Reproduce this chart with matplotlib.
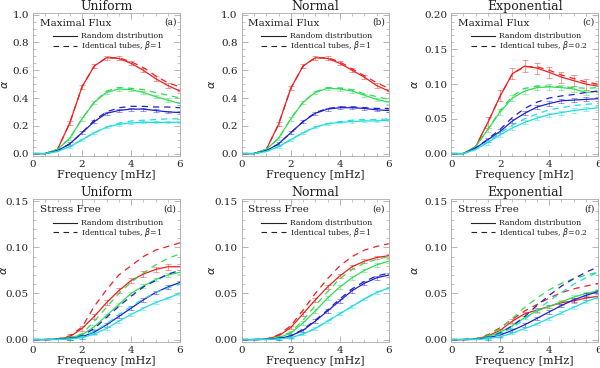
import numpy as np
import matplotlib
matplotlib.use("Agg")
import matplotlib.pyplot as plt
from matplotlib.ticker import MultipleLocator

plt.rcParams["font.family"] = "DejaVu Serif"

# frequency grid [mHz]
freq = [0, 0.5, 1.0, 1.5, 2.0, 2.5, 3.0, 3.5, 4.0, 4.5, 5.0, 5.5, 6.0]

# rows: red, green, blue, cyan  (solid = random distribution, dashed = identical tubes)
# (a) Uniform, maximal flux
uni_mf_solid = [
    [0, 0.0, 0.03, 0.22, 0.48, 0.63, 0.69, 0.685, 0.65, 0.60, 0.54, 0.49, 0.45],
    [0, 0.0, 0.03, 0.11, 0.25, 0.37, 0.44, 0.465, 0.46, 0.44, 0.41, 0.385, 0.36],
    [0, 0.0, 0.02, 0.07, 0.15, 0.23, 0.29, 0.31, 0.32, 0.32, 0.31, 0.30, 0.295],
    [0, 0.0, 0.015, 0.05, 0.10, 0.15, 0.19, 0.21, 0.22, 0.225, 0.225, 0.225, 0.225]]
uni_mf_dash = [
    [0, 0.0, 0.03, 0.22, 0.48, 0.63, 0.69, 0.69, 0.66, 0.62, 0.56, 0.51, 0.48],
    [0, 0.0, 0.03, 0.11, 0.25, 0.37, 0.45, 0.475, 0.47, 0.46, 0.44, 0.42, 0.40],
    [0, 0.0, 0.02, 0.07, 0.15, 0.24, 0.30, 0.33, 0.34, 0.34, 0.335, 0.335, 0.33],
    [0, 0.0, 0.015, 0.05, 0.10, 0.15, 0.19, 0.22, 0.235, 0.24, 0.245, 0.25, 0.25]]
# (b) Normal, maximal flux
nor_mf_solid = [
    [0, 0.0, 0.03, 0.21, 0.47, 0.63, 0.69, 0.685, 0.65, 0.60, 0.55, 0.49, 0.45],
    [0, 0.0, 0.03, 0.11, 0.25, 0.37, 0.44, 0.47, 0.465, 0.45, 0.42, 0.39, 0.37],
    [0, 0.0, 0.02, 0.07, 0.15, 0.23, 0.29, 0.32, 0.33, 0.33, 0.325, 0.315, 0.31],
    [0, 0.0, 0.015, 0.05, 0.10, 0.15, 0.19, 0.215, 0.225, 0.23, 0.235, 0.235, 0.24]]
nor_mf_dash = [
    [0, 0.0, 0.03, 0.21, 0.47, 0.63, 0.69, 0.69, 0.66, 0.61, 0.56, 0.51, 0.47],
    [0, 0.0, 0.03, 0.11, 0.25, 0.37, 0.445, 0.475, 0.47, 0.46, 0.43, 0.41, 0.39],
    [0, 0.0, 0.02, 0.07, 0.15, 0.23, 0.295, 0.325, 0.335, 0.335, 0.33, 0.325, 0.325],
    [0, 0.0, 0.015, 0.05, 0.10, 0.15, 0.19, 0.215, 0.23, 0.24, 0.245, 0.245, 0.25]]
# (c) Exponential, maximal flux
exp_mf_solid = [
    [0, 0.0, 0.01, 0.045, 0.083, 0.115, 0.126, 0.123, 0.117, 0.11, 0.105, 0.10, 0.097],
    [0, 0.0, 0.01, 0.035, 0.06, 0.08, 0.09, 0.095, 0.096, 0.095, 0.093, 0.088, 0.09],
    [0, 0.0, 0.008, 0.02, 0.032, 0.047, 0.058, 0.067, 0.072, 0.076, 0.077, 0.078, 0.079],
    [0, 0.0, 0.006, 0.016, 0.027, 0.037, 0.045, 0.051, 0.056, 0.059, 0.062, 0.064, 0.066]]
exp_mf_dash = [
    [0, 0.0, 0.01, 0.045, 0.083, 0.115, 0.125, 0.125, 0.12, 0.113, 0.108, 0.103, 0.10],
    [0, 0.0, 0.01, 0.035, 0.062, 0.083, 0.094, 0.097, 0.097, 0.096, 0.095, 0.094, 0.095],
    [0, 0.0, 0.008, 0.021, 0.035, 0.052, 0.065, 0.074, 0.08, 0.083, 0.085, 0.088, 0.09],
    [0, 0.0, 0.006, 0.017, 0.030, 0.041, 0.05, 0.057, 0.063, 0.066, 0.069, 0.071, 0.072]]
# (d) Uniform, stress free
uni_sf_solid = [
    [0, 0, 0.0005, 0.003, 0.012, 0.025, 0.04, 0.053, 0.064, 0.071, 0.076, 0.079, 0.079],
    [0, 0, 0.0003, 0.002, 0.005, 0.014, 0.026, 0.038, 0.05, 0.058, 0.065, 0.07, 0.073],
    [0, 0, 0.0002, 0.001, 0.003, 0.008, 0.016, 0.025, 0.034, 0.043, 0.051, 0.057, 0.062],
    [0, 0, 0.0001, 0.0007, 0.002, 0.006, 0.012, 0.02, 0.027, 0.034, 0.04, 0.045, 0.05]]
uni_sf_dash = [
    [0, 0, 0.0008, 0.004, 0.0135, 0.036, 0.054, 0.07, 0.08, 0.09, 0.097, 0.101, 0.105],
    [0, 0, 0.0004, 0.002, 0.006, 0.02, 0.035, 0.05, 0.062, 0.072, 0.081, 0.088, 0.093],
    [0, 0, 0.0002, 0.001, 0.004, 0.012, 0.024, 0.036, 0.047, 0.057, 0.064, 0.071, 0.075],
    [0, 0, 0.0001, 0.0008, 0.003, 0.009, 0.017, 0.027, 0.036, 0.044, 0.051, 0.056, 0.06]]
# (e) Normal, stress free
nor_sf_solid = [
    [0, 0, 0.0005, 0.004, 0.013, 0.028, 0.043, 0.057, 0.069, 0.079, 0.085, 0.089, 0.091],
    [0, 0, 0.0003, 0.002, 0.007, 0.018, 0.031, 0.045, 0.057, 0.067, 0.075, 0.081, 0.085],
    [0, 0, 0.0002, 0.001, 0.004, 0.01, 0.02, 0.031, 0.042, 0.053, 0.061, 0.067, 0.07],
    [0, 0, 0.0001, 0.0006, 0.002, 0.006, 0.012, 0.02, 0.028, 0.036, 0.044, 0.051, 0.056]]
nor_sf_dash = [
    [0, 0, 0.0006, 0.005, 0.015, 0.032, 0.05, 0.066, 0.08, 0.09, 0.097, 0.101, 0.104],
    [0, 0, 0.0004, 0.003, 0.008, 0.021, 0.037, 0.052, 0.066, 0.076, 0.083, 0.087, 0.09],
    [0, 0, 0.0002, 0.001, 0.004, 0.011, 0.021, 0.032, 0.044, 0.055, 0.063, 0.069, 0.072],
    [0, 0, 0.0001, 0.0006, 0.002, 0.006, 0.012, 0.02, 0.028, 0.036, 0.044, 0.051, 0.056]]
# (f) Exponential, stress free
exp_sf_solid = [
    [0, 0, 0.0005, 0.004, 0.010, 0.020, 0.028, 0.032, 0.036, 0.040, 0.042, 0.045, 0.047],
    [0, 0, 0.0003, 0.003, 0.008, 0.015, 0.024, 0.031, 0.036, 0.041, 0.046, 0.050, 0.053],
    [0, 0, 0.0002, 0.002, 0.005, 0.010, 0.016, 0.023, 0.030, 0.037, 0.043, 0.048, 0.052],
    [0, 0, 0.0001, 0.001, 0.003, 0.007, 0.012, 0.017, 0.023, 0.029, 0.035, 0.041, 0.046]]
exp_sf_dash = [
    [0, 0, 0.001, 0.005, 0.013, 0.022, 0.031, 0.038, 0.045, 0.051, 0.055, 0.058, 0.061],
    [0, 0, 0.0008, 0.004, 0.012, 0.023, 0.035, 0.045, 0.054, 0.061, 0.066, 0.070, 0.073],
    [0, 0, 0.0004, 0.002, 0.007, 0.015, 0.025, 0.037, 0.048, 0.058, 0.066, 0.073, 0.079],
    [0, 0, 0.0003, 0.002, 0.006, 0.013, 0.022, 0.032, 0.042, 0.051, 0.060, 0.067, 0.073]]

# typical error bar half-size per colour (red, green, blue, cyan)
err_a = [0.015, 0.012, 0.01, 0.008]
err_b = [0.015, 0.012, 0.01, 0.008]
err_c = [0.008, 0.004, 0.003, 0.003]
err_d = [0.003, 0.002, 0.002, 0.0015]
err_e = [0.002, 0.002, 0.002, 0.0015]
err_f = [0.002, 0.002, 0.002, 0.0015]

cols = ['#ee2020', '#30dd55', '#2020cc', '#20dddd']
titles = ['Uniform', 'Normal', 'Exponential']
letters = ['(a)', '(b)', '(c)', '(d)', '(e)', '(f)']
betas = ['1', '1', '0.2']

panels = [
    (uni_mf_solid, uni_mf_dash, err_a), (nor_mf_solid, nor_mf_dash, err_b),
    (exp_mf_solid, exp_mf_dash, err_c), (uni_sf_solid, uni_sf_dash, err_d),
    (nor_sf_solid, nor_sf_dash, err_e), (exp_sf_solid, exp_sf_dash, err_f)]

fig = plt.figure(figsize=(6, 3.68), dpi=100)
lefts = [0.055, 0.403, 0.752]
bottoms = [0.577, 0.071]
w, h = 0.245, 0.387
fg = '#222222'
frame = '#aaaaaa'
alpha_x = [[-0.156, -0.171, -0.214], [-0.165, -0.171, -0.214]]

for k, (sol, das, err) in enumerate(panels):
    row, col = divmod(k, 3)
    ax = fig.add_axes([lefts[col], bottoms[row], w, h])
    for i in range(4):
        ax.plot(freq, das[i], color=cols[i], lw=0.9, ls=(0, (5, 4)))
        ax.plot(freq, sol[i], color=cols[i], lw=0.9)
        ef = [f for f in freq if f >= 1.5]
        ev = [v for f, v in zip(freq, sol[i]) if f >= 1.5]
        ax.errorbar(ef, ev, yerr=err[i], fmt='none', ecolor=cols[i],
                    alpha=0.45, elinewidth=0.7, capsize=2.5, capthick=0.7)
    ax.set_xlim(0, 6)
    if row == 0 and col < 2:
        ax.set_ylim(-0.015, 1.01)
        ax.yaxis.set_major_locator(MultipleLocator(0.2))
        ax.yaxis.set_minor_locator(MultipleLocator(0.05))
        ax.yaxis.set_major_formatter(plt.FormatStrFormatter('%.1f'))
        ytop = 1.0
    elif row == 0:
        ax.set_ylim(-0.003, 0.202)
        ax.yaxis.set_major_locator(MultipleLocator(0.05))
        ax.yaxis.set_minor_locator(MultipleLocator(0.01))
        ax.yaxis.set_major_formatter(plt.FormatStrFormatter('%.2f'))
        ytop = 0.2
    else:
        ax.set_ylim(-0.0025, 0.152)
        ax.yaxis.set_major_locator(MultipleLocator(0.05))
        ax.yaxis.set_minor_locator(MultipleLocator(0.01))
        ax.yaxis.set_major_formatter(plt.FormatStrFormatter('%.2f'))
        ytop = 0.15
    ax.xaxis.set_major_locator(MultipleLocator(2))
    ax.xaxis.set_minor_locator(MultipleLocator(0.5))
    ax.tick_params(which='both', direction='in', top=True, right=True,
                   color=frame, labelsize=7.5, labelcolor=fg, pad=3)
    ax.tick_params(which='major', length=4, width=0.6)
    ax.tick_params(which='minor', length=2, width=0.5)
    for s in ax.spines.values():
        s.set_color(frame)
        s.set_linewidth(0.6)
    ax.set_xlabel('Frequency [mHz]', fontsize=8, color=fg, labelpad=1)
    ax.set_ylabel(r'$\alpha$', fontsize=8, color=fg)
    ax.yaxis.set_label_coords(alpha_x[row][col], 0.5)
    ax.set_title(titles[col], fontsize=9, color=fg, pad=0.5)
    ax.text(0.045, 0.93, 'Maximal Flux' if row == 0 else 'Stress Free',
            transform=ax.transAxes, fontsize=7.5, color=fg, va='center')
    ax.text(0.975, 0.935, letters[k], transform=ax.transAxes, fontsize=6.5,
            color=fg, va='center', ha='right')
    # legend
    ax.plot([0.8, 1.8], [0.845 * ytop] * 2, color=fg, lw=0.8)
    ax.plot([0.8, 1.8], [0.775 * ytop] * 2, color=fg, lw=0.8, ls=(0, (5, 4)))
    ax.text(1.95, 0.845 * ytop, 'Random distribution', fontsize=5.6,
            color=fg, va='center')
    ax.text(1.95, 0.775 * ytop, r'Identical tubes, $\beta$=' + betas[col],
            fontsize=5.6, color=fg, va='center')

fig.savefig('out.png', dpi=100)
